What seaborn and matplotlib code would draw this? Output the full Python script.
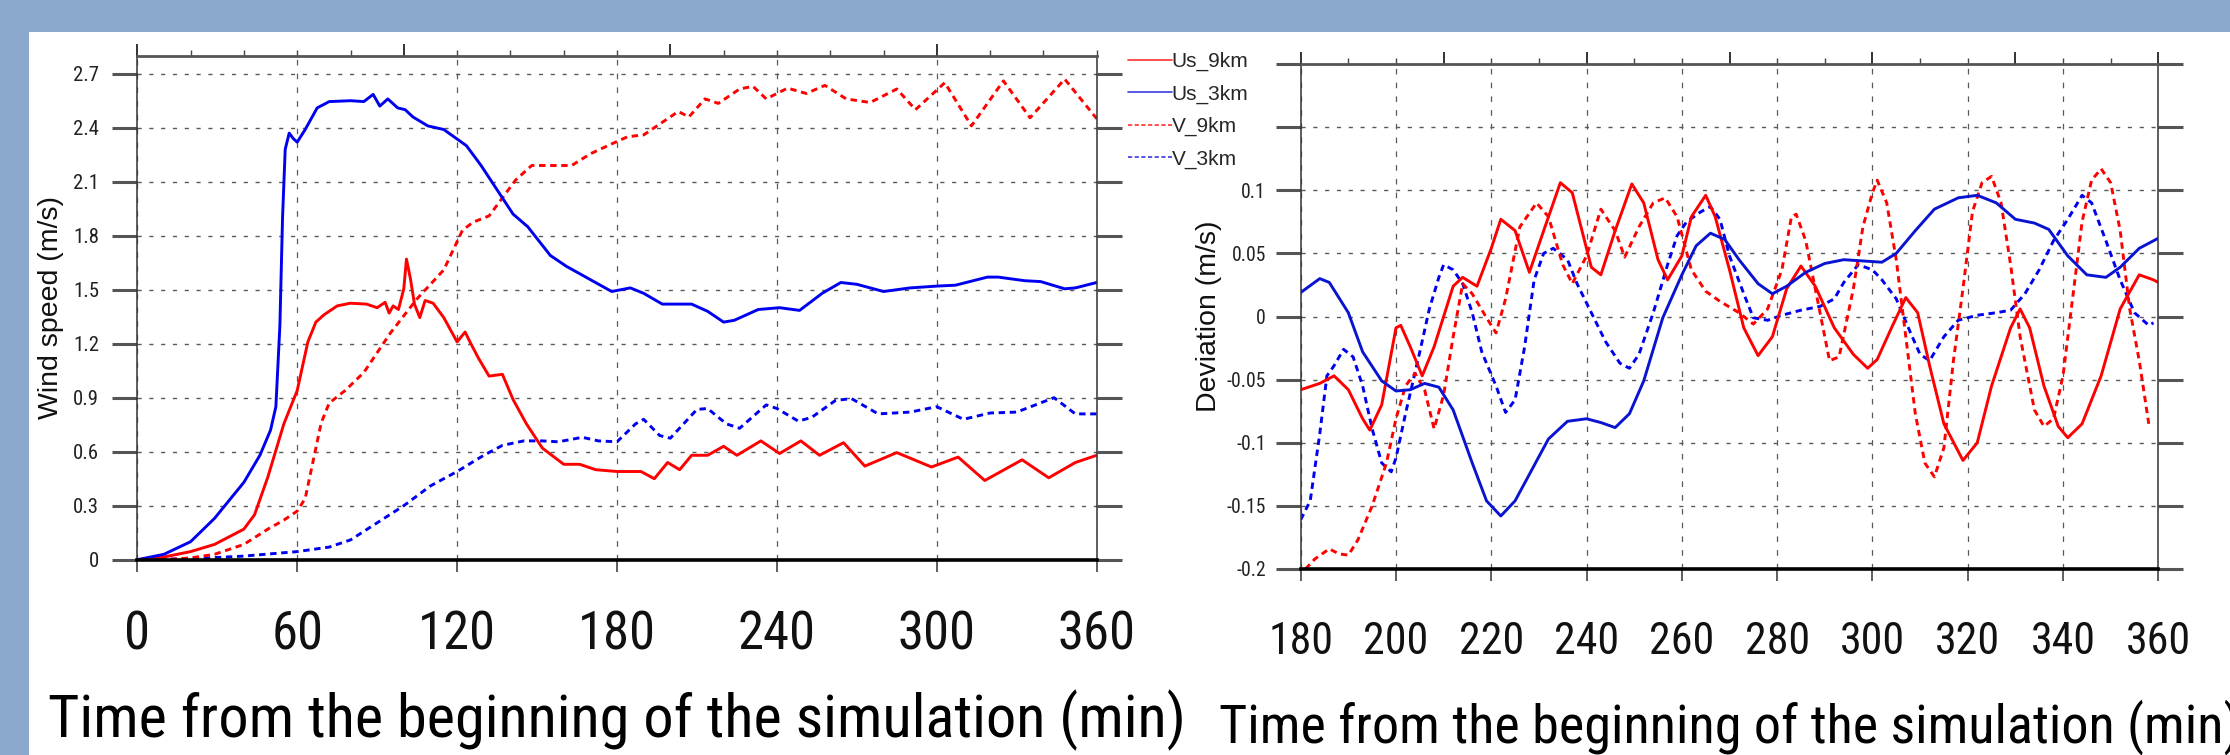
import numpy as np
import pandas as pd
import seaborn as sns
import matplotlib.pyplot as plt
from matplotlib import font_manager
from matplotlib.font_manager import FontProperties
from matplotlib.lines import Line2D
from matplotlib.patches import Rectangle
from matplotlib.ticker import MultipleLocator, NullFormatter


# ---------- data ----------
# left panel: wind speed (m/s) vs time (min)
T_US9_SPD = [0, 10, 20, 29, 40, 44, 49, 55, 60, 64, 67, 70, 75, 80, 86, 90, 93, 94.5, 96, 98,
             100, 101, 102.5, 104, 106, 108, 111, 115, 120, 123, 125, 128, 132, 137, 141, 146,
             152, 160, 166, 172, 180, 189, 194, 199, 203.5, 208, 214, 220, 225, 234, 241, 249,
             256, 265, 273, 285, 298, 308, 318, 332, 342, 352, 360]
US9_SPD = [0, 0.015, 0.045, 0.085, 0.17, 0.25, 0.46, 0.755, 0.94, 1.21, 1.32, 1.36, 1.41, 1.425,
           1.42, 1.40, 1.43, 1.37, 1.41, 1.39, 1.505, 1.67, 1.56, 1.42, 1.345, 1.44, 1.425, 1.345,
           1.21, 1.265, 1.205, 1.12, 1.02, 1.03, 0.89, 0.755, 0.62, 0.53, 0.53, 0.50, 0.49, 0.49,
           0.45, 0.54, 0.50, 0.58, 0.58, 0.63, 0.58, 0.66, 0.59, 0.66, 0.58, 0.65, 0.52, 0.595,
           0.515, 0.57, 0.44, 0.555, 0.455, 0.54, 0.58]

T_US3_SPD = [0, 10, 20, 29, 40, 46, 50, 52, 53.5, 54.5, 55.5, 57, 58.5, 60, 63, 67.5, 72, 80, 85,
             88.5, 91, 94, 97.7, 100.5, 103.4, 109, 115, 123.5, 129, 135, 141, 146.5, 155, 161,
             169.5, 178, 185, 190, 197, 208, 214, 220, 224, 233, 241, 248.5, 257, 264, 270, 280,
             290, 300, 307, 319, 323, 333, 339, 348, 352, 360]
US3_SPD = [0, 0.03, 0.10, 0.23, 0.43, 0.58, 0.72, 0.85, 1.30, 1.90, 2.28, 2.37, 2.34, 2.32, 2.39,
           2.51, 2.545, 2.55, 2.545, 2.585, 2.52, 2.56, 2.51, 2.50, 2.46, 2.41, 2.39, 2.30, 2.19,
           2.055, 1.92, 1.85, 1.69, 1.63, 1.56, 1.49, 1.51, 1.48, 1.42, 1.42, 1.38, 1.32, 1.33,
           1.39, 1.40, 1.385, 1.48, 1.54, 1.53, 1.49, 1.51, 1.52, 1.525, 1.57, 1.57, 1.55, 1.545,
           1.505, 1.51, 1.54]

T_V9_SPD = [0, 10, 20, 29, 40, 49, 55, 60, 63, 66, 69, 72, 78, 85, 95, 105, 115, 122, 126, 132,
            137, 142, 148, 155, 163, 170, 178, 184, 190, 197, 203, 207, 213, 218, 226, 231, 236,
            244, 251, 258, 266, 275, 285, 292, 303, 313, 325, 335, 348, 360]
V9_SPD = [0, 0, 0.01, 0.03, 0.085, 0.17, 0.22, 0.27, 0.34, 0.55, 0.76, 0.87, 0.94, 1.04, 1.26,
          1.45, 1.61, 1.83, 1.875, 1.91, 2.01, 2.11, 2.19, 2.19, 2.19, 2.255, 2.31, 2.35, 2.36,
          2.43, 2.49, 2.46, 2.56, 2.535, 2.615, 2.63, 2.56, 2.62, 2.59, 2.635, 2.56, 2.54, 2.615,
          2.50, 2.65, 2.41, 2.66, 2.455, 2.67, 2.45]

T_V3_SPD = [0, 20, 40, 60, 72, 80, 90, 100, 110, 120, 130, 137, 145, 152, 158, 167, 173, 180,
            187, 190, 196, 200, 210, 214, 221, 226, 236, 240, 248, 253, 262, 268, 278, 290, 300,
            310, 320, 330, 337, 344, 352, 360]
V3_SPD = [0, 0.005, 0.02, 0.045, 0.07, 0.11, 0.205, 0.30, 0.41, 0.49, 0.58, 0.635, 0.66, 0.66,
          0.655, 0.68, 0.66, 0.655, 0.755, 0.78, 0.69, 0.675, 0.835, 0.84, 0.755, 0.73, 0.86,
          0.84, 0.77, 0.79, 0.885, 0.895, 0.81, 0.82, 0.85, 0.78, 0.815, 0.82, 0.86, 0.90, 0.81,
          0.81]

# right panel: deviation (m/s) vs time (min)
T_US9_DEV = [180, 184, 187, 190, 193, 194.5, 197, 200, 201, 203, 205.5, 208, 212, 214, 217, 220,
             222, 225, 228, 231, 234.5, 237, 241, 243, 246, 249.5, 252, 255, 257, 260, 262, 265,
             267, 270, 273, 276, 279, 282, 285, 288, 292, 296, 299, 301, 304, 307, 309.5, 312,
             315, 319, 322, 325, 329, 331, 333, 336, 339, 341, 344, 348, 352, 356, 359, 360]
US9_DEV = [-0.058, -0.053, -0.047, -0.058, -0.081, -0.09, -0.07, -0.009, -0.007, -0.024, -0.047,
           -0.024, 0.024, 0.031, 0.024, 0.054, 0.077, 0.068, 0.035, 0.068, 0.106, 0.098, 0.039,
           0.033, 0.068, 0.105, 0.09, 0.045, 0.029, 0.048, 0.079, 0.096, 0.079, 0.037, -0.009,
           -0.031, -0.016, 0.022, 0.04, 0.024, -0.009, -0.03, -0.041, -0.034, -0.009, 0.015,
           0.003, -0.039, -0.085, -0.114, -0.10, -0.055, -0.009, 0.006, -0.009, -0.055, -0.087,
           -0.096, -0.085, -0.047, 0.006, 0.033, 0.029, 0.027]

T_US3_DEV = [180, 184, 186, 190, 193, 197, 200, 203, 206, 209, 212, 216, 219, 222, 225, 229, 232,
             236, 240, 243, 246, 249, 252, 256, 260, 263, 266, 269, 272, 276, 279, 282, 286, 290,
             294, 298, 302, 305, 309, 313, 318, 322, 326, 330, 334, 337, 341, 345, 349, 352, 356,
             360]
US3_DEV = [0.019, 0.03, 0.027, 0.003, -0.028, -0.051, -0.059, -0.058, -0.053, -0.056, -0.074,
           -0.116, -0.146, -0.158, -0.146, -0.118, -0.097, -0.083, -0.081, -0.084, -0.088, -0.077,
           -0.051, -0.001, 0.033, 0.056, 0.066, 0.061, 0.045, 0.026, 0.018, 0.024, 0.035, 0.042,
           0.045, 0.044, 0.043, 0.05, 0.068, 0.085, 0.094, 0.096, 0.09, 0.077, 0.074, 0.069,
           0.048, 0.033, 0.031, 0.039, 0.054, 0.062]

T_V9_DEV = [181, 183, 186, 188, 190, 192, 195, 198, 200, 202, 204, 206, 208, 210, 212, 214, 216,
            219, 221, 223, 226, 229.5, 232, 235, 237, 240, 243, 246, 248, 251, 254, 256.5, 259,
            262, 265, 268, 272, 275, 278, 281, 283, 284, 286, 288, 290, 291, 293, 296, 298, 300,
            301, 303, 305, 307, 309, 311, 313, 315, 317, 319, 321, 323, 325, 327, 329, 331, 334,
            336, 338, 340, 342, 344, 346, 348, 350, 352, 354, 356, 358]
V9_DEV = [-0.20, -0.192, -0.184, -0.188, -0.189, -0.177, -0.15, -0.116, -0.081, -0.055, -0.045,
          -0.058, -0.089, -0.062, -0.016, 0.026, 0.018, -0.001, -0.013, 0.014, 0.071, 0.09, 0.079,
          0.041, 0.026, 0.048, 0.085, 0.068, 0.047, 0.071, 0.09, 0.094, 0.079, 0.037, 0.02, 0.012,
          0.003, -0.006, 0.006, 0.037, 0.079, 0.081, 0.06, 0.022, -0.016, -0.035, -0.032, 0.022,
          0.071, 0.098, 0.108, 0.09, 0.045, -0.016, -0.077, -0.116, -0.127, -0.104, -0.035, 0.022,
          0.083, 0.106, 0.111, 0.09, 0.041, -0.016, -0.074, -0.087, -0.081, -0.047, 0.014, 0.075,
          0.108, 0.117, 0.106, 0.068, 0.006, -0.035, -0.085]

T_V3_DEV = [180, 182, 184, 185.5, 187, 189, 191, 193, 195, 197, 199, 200, 202, 205, 207, 209, 210,
            212, 214, 216, 218, 221, 223, 225, 227, 229, 231, 233, 236, 238, 241, 244, 247, 249,
            251, 254, 257, 259, 261, 264, 266, 268, 270, 273, 275, 278, 281, 285, 289, 292, 294,
            297, 300, 302, 305, 308, 310, 312, 315, 318, 322, 326, 329, 332, 335, 338, 341, 344,
            346, 349, 352, 355, 358, 359]
V3_DEV = [-0.161, -0.146, -0.093, -0.047, -0.039, -0.026, -0.032, -0.055, -0.089, -0.116, -0.123,
          -0.112, -0.077, -0.028, 0.006, 0.031, 0.041, 0.037, 0.026, 0.003, -0.028, -0.055,
          -0.076, -0.066, -0.024, 0.029, 0.05, 0.054, 0.045, 0.026, 0.003, -0.02, -0.037, -0.041,
          -0.03, 0.003, 0.041, 0.064, 0.075, 0.083, 0.087, 0.077, 0.048, 0.018, -0.001, -0.003,
          0.001, 0.005, 0.008, 0.014, 0.027, 0.041, 0.037, 0.029, 0.014, -0.013, -0.03, -0.035,
          -0.016, -0.003, 0.001, 0.003, 0.005, 0.018, 0.037, 0.06, 0.077, 0.096, 0.09, 0.06,
          0.029, 0.003, -0.007, -0.005]

LABELS = ["Us_9km", "Us_3km", "V_9km", "V_3km"]

LEFT_XTICKS = [0, 60, 120, 180, 240, 300, 360]
LEFT_YTICKS = [0, 0.3, 0.6, 0.9, 1.2, 1.5, 1.8, 2.1, 2.4, 2.7]
LEFT_YTICK_LABELS = ["0", "0.3", "0.6", "0.9", "1.2", "1.5", "1.8", "2.1", "2.4", "2.7"]
RIGHT_XTICKS = [180, 200, 220, 240, 260, 280, 300, 320, 340, 360]
RIGHT_YTICKS = [-0.2, -0.15, -0.1, -0.05, 0, 0.05, 0.1, 0.15, 0.2]
RIGHT_YTICK_LABELS = ["-0.2", "-0.15", "-0.1", "-0.05", "0", "0.05", "0.1", "", ""]

XLABEL = "Time from the beginning of the simulation (min)"


# ---------- style ----------
sns.set_theme(style="white")
plt.rcParams["font.family"] = ["Liberation Sans", "DejaVu Sans"]

W, H = 2230, 755
BAND = "#8BA8CE"
RED = "#FF0000"
BLUE = "#0000F0"
GRID = "#5a5a5a"
TICK = "#555555"
DOTTED = (0, (2.2, 1.6))


def find_narrow_font():
    entries = font_manager.fontManager.ttflist
    names = {f.name for f in entries}
    for name in ["Liberation Sans Narrow", "Arial Narrow", "Roboto Condensed",
                 "Open Sans Condensed", "Noto Sans Condensed"]:
        if name in names:
            return {"family": name}
    for f in entries:
        if f.stretch in ("condensed", "semi-condensed", "extra-condensed") and "Sans" in f.name \
                and f.style == "normal":
            return {"family": f.name, "stretch": f.stretch}
    return {"family": "Liberation Sans"}


NARROW = find_narrow_font()
fig = plt.figure(figsize=(W / 100, H / 100), dpi=100, facecolor=BAND)
_renderer = fig.canvas.get_renderer()


def fit_size(text, target_px, max_size):
    # font size (pt) that gives the text the measured pixel width, capped by its height
    prop = FontProperties(size=100, **NARROW)
    w, _, _ = _renderer.get_text_width_height_descent(text, prop, ismath=False)
    return min(max_size, 100 * target_px / w)


def narrow_kw(size):
    kw = {"fontfamily": NARROW["family"], "fontsize": size}
    if "stretch" in NARROW:
        kw["fontstretch"] = NARROW["stretch"]
    return kw


def draw_series(ax, series):
    for x, y, color, ls in series:
        sns.lineplot(x=x, y=y, ax=ax, color=color, linewidth=2.1, linestyle=ls,
                     estimator=None, sort=False, legend=False,
                     solid_joinstyle="round", dash_joinstyle="round")


def style_panel(ax, xlim, xticks, ylim, yticks, ylabels, top_major, top_minor,
                xsize, xpad, ysize, ypad, xlabel_size, xlabel_y, ylabel_x, ylabel):
    ax.set_xlim(*xlim)
    ax.set_ylim(*ylim)
    ax.set_xticks(xticks)
    ax.set_xticklabels([str(v) for v in xticks], color="#111111", **narrow_kw(xsize))
    ax.set_yticks(yticks)
    ax.set_yticklabels(ylabels, color="#222222", **narrow_kw(ysize))

    ax.tick_params(axis="x", which="major", direction="out", bottom=True, top=False,
                   length=8.6, width=1.1, color="#333333", pad=xpad)
    ax.tick_params(axis="y", which="major", direction="out", left=True, right=True,
                   length=18, width=2.2, color=TICK, pad=ypad)

    ax.set_axisbelow(True)
    ax.grid(axis="x", linestyle=(0, (4.5, 6.5)), color=GRID, linewidth=0.9)
    ax.grid(axis="y", linestyle=(0, (3, 5.5)), color=GRID, linewidth=1.0)

    for side in ["left", "right"]:
        ax.spines[side].set_color("#333333")
        ax.spines[side].set_linewidth(1.1)
    ax.spines["top"].set_color("#555555")
    ax.spines["top"].set_linewidth(2.0)
    ax.spines["bottom"].set_color("black")
    ax.spines["bottom"].set_linewidth(2.6)

    top = ax.secondary_xaxis("top")
    top.set_xticks(np.arange(xlim[0], xlim[1] + 1, top_major))
    top.xaxis.set_minor_locator(MultipleLocator(top_minor))
    top.xaxis.set_major_formatter(NullFormatter())
    top.tick_params(which="major", direction="out", length=8.6, width=1.4, color="#333333")
    top.tick_params(which="minor", direction="out", length=4, width=1.0, color="#444444")
    top.spines["top"].set_visible(False)

    ax.set_xlabel(XLABEL, color="black", **narrow_kw(xlabel_size))
    ax.xaxis.set_label_coords(0.5, xlabel_y)
    ax.set_ylabel(ylabel, fontsize=20.5, color="#111111")
    ax.yaxis.set_label_coords(ylabel_x, 0.5)


fig.add_artist(Rectangle((29 / W, 0), 1 - 29 / W, 1 - 32 / H, transform=fig.transFigure,
                         facecolor="white", edgecolor="none", zorder=-5))

ax1 = fig.add_axes([137.3 / W, 1 - 559.7 / H, 959.4 / W, 504 / H])
ax2 = fig.add_axes([1300.7 / W, 1 - 569 / H, 857.6 / W, 505 / H])

draw_series(ax1, [
    (T_V3_SPD, V3_SPD, BLUE, DOTTED),
    (T_V9_SPD, V9_SPD, RED, DOTTED),
    (T_US9_SPD, US9_SPD, RED, "-"),
    (T_US3_SPD, US3_SPD, BLUE, "-"),
])
draw_series(ax2, [
    (T_V3_DEV, V3_DEV, BLUE, DOTTED),
    (T_V9_DEV, V9_DEV, RED, DOTTED),
    (T_US9_DEV, US9_DEV, RED, "-"),
    (T_US3_DEV, US3_DEV, "#0A14D0", "-"),
])

style_panel(ax1, (0, 360), LEFT_XTICKS, (0, 2.8), LEFT_YTICKS, LEFT_YTICK_LABELS, 100, 20,
            xsize=fit_size("360", 78, 39), xpad=27, ysize=fit_size("2.7", 26, 16), ypad=9.5,
            xlabel_size=fit_size(XLABEL, 1140, 48), xlabel_y=-0.258,
            ylabel_x=-0.0764, ylabel="Wind speed (m/s)")
style_panel(ax2, (180, 360), RIGHT_XTICKS, (-0.2, 0.2), RIGHT_YTICKS, RIGHT_YTICK_LABELS, 30, 10,
            xsize=fit_size("180", 65, 36), xpad=29, ysize=fit_size("-0.15", 39, 15), ypad=7,
            xlabel_size=fit_size(XLABEL, 1021, 43), xlabel_y=-0.259,
            ylabel_x=-0.0923, ylabel="Deviation (m/s)")

handles = [
    Line2D([], [], color="#FF3030", linewidth=1.2),
    Line2D([], [], color="#3A3AE0", linewidth=1.2),
    Line2D([], [], color="#FF3030", linewidth=1.2, linestyle=(0, (2.5, 1.5))),
    Line2D([], [], color="#3A3AE0", linewidth=1.2, linestyle=(0, (2.5, 1.5))),
]
fig.legend(handles, LABELS, loc="upper left", bbox_to_anchor=(1128 / W, 1 - 52 / H),
           frameon=False, fontsize=15, handlelength=2.1, handletextpad=0.0,
           labelspacing=0.64, borderpad=0, borderaxespad=0)

fig.savefig("out.png", dpi=100, facecolor=fig.get_facecolor())
